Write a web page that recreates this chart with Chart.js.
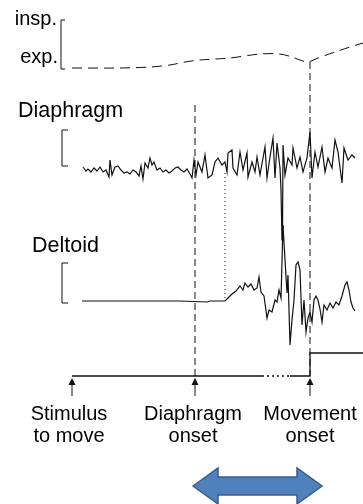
<!DOCTYPE html>
<html>
<head>
<meta charset="utf-8">
<script src="https://cdn.jsdelivr.net/npm/chart.js@4/dist/chart.umd.min.js"></script>
<style>
  body { margin: 0; background: #fff; }
</style>
</head>
<body>
<canvas id="grafica" width="363" height="504"></canvas>
<script>
// Tiempos de los eventos (ms despues del estimulo)
const eventLabels = [["Stimulus", "to move"], ["Diaphragm", "onset"], ["Movement", "onset"]];
const eventTimes = [0, 246, 476];
const deltoidOnset = 306;

// Respiracion (insp./exp.)
const respTime = [0, 96, 156, 196, 226, 256, 316, 376, 416, 440, 456, 472, 492, 526, 556, 582];
const respValue = [0, 0, 1, 3, 6, 8, 10, 14, 14, 11, 8, 6, 10, 16, 21, 25];

// EMG diafragma
const diaTime = [22, 28, 32, 38, 44, 50, 56, 62, 68, 74, 76, 80, 86, 92, 98, 104, 110, 116, 122, 128,
  134, 138, 142, 146, 152, 156, 160, 164, 170, 176, 182, 188, 194, 200, 206, 212, 218, 224, 230, 236,
  240, 244, 248, 252, 260, 266, 272, 280, 286, 292, 300, 306, 310, 312, 320, 322, 330, 336, 342, 350,
  352, 360, 366, 370, 376, 382, 386, 390, 396, 402, 406, 410, 416, 418, 420, 421, 422, 426, 432, 440,
  442, 450, 456, 462, 470, 476, 480, 486, 492, 500, 506, 512, 520, 526, 532, 540, 544, 552, 560, 566];
const diaValue = [3, -1, 1, -2, 2, -1, 3, -2, 0, -7, 10, -5, 3, 4, 0, -3, -2, -4, 0, -2,
  -6, 4, -9, 7, 2, 12, 5, 8, 0, 2, -2, 0, -3, -1, 2, 3, 0, -2, 1, -4,
  -8, 10, -5, 8, -2, 15, -8, -5, 8, 12, 5, 8, -2, 17, 20, 2, -5, 18, 0, 17,
  -7, 8, -2, 13, -5, 12, 23, -8, 13, 32, -8, 27, 2, -20, -70, -66, 25, -5, 12, 5,
  22, 2, 13, -2, 12, 38, -8, 18, 3, 23, -2, 12, 2, 30, 18, -13, 22, 10, 15, 12];

// EMG deltoides
const delTime = [20, 156, 216, 270, 276, 306, 312, 320, 328, 336, 342, 346, 352, 358, 364, 370, 374, 378,
  384, 390, 394, 400, 406, 410, 414, 418, 422, 426, 430, 432, 436, 440, 444, 448, 452, 456, 460, 464,
  468, 472, 476, 480, 484, 488, 492, 496, 500, 504, 510, 516, 522, 528, 534, 540, 546, 550, 554, 558,
  562, 566];
const delValue = [0, 0, 0, -1, 0, 0, 3, 7, 10, 15, 11, 18, 14, 17, 11, 13, 24, 9,
  5, -17, -9, -11, 1, -1, 11, 3, 76, 41, 8, 26, -44, -19, 1, 36, 39, 31, -24, 1,
  -31, -17, -11, -21, 1, 5, 1, -8, -21, -4, -9, -2, -7, -1, -4, 5, 16, 19, 11, -1,
  -7, -10];

// Movimiento (eje de tiempo + escalon)
const movTime = [0, 380, 436, 476, 476, 582];
const movValue = [0, 0, 0, 0, 23, 23];

// Barras de calibracion [abajo, arriba]
const calResp = [-1, 48];
const calDia = [4, 40];
const calDel = [-2, 38];

function toXY(times, values) {
  return times.map((t, i) => ({ x: t, y: values[i] }));
}

function linea(ctx, x1, y1, x2, y2) {
  ctx.beginPath();
  ctx.moveTo(x1, y1);
  ctx.lineTo(x2, y2);
  ctx.stroke();
}

function corchete(ctx, x, yTop, yBot, tick) {
  ctx.beginPath();
  ctx.moveTo(x + tick, yTop);
  ctx.lineTo(x, yTop);
  ctx.lineTo(x, yBot);
  ctx.lineTo(x + tick, yBot);
  ctx.stroke();
}

const anotaciones = {
  id: "anotaciones",
  beforeDraw(chart) {
    const ctx = chart.ctx;
    ctx.save();
    ctx.fillStyle = "#fff";
    ctx.fillRect(0, 0, chart.width, chart.height);
    ctx.restore();
  },
  afterDatasetsDraw(chart) {
    const { ctx, scales } = chart;
    const px = (t) => scales.x.getPixelForValue(t);
    const yResp = (v) => scales.yResp.getPixelForValue(v);
    const yDia = (v) => scales.yDia.getPixelForValue(v);
    const yDel = (v) => scales.yDel.getPixelForValue(v);
    const yMov = (v) => scales.yMov.getPixelForValue(v);
    ctx.save();
    ctx.strokeStyle = "#111";
    ctx.fillStyle = "#111";
    ctx.lineWidth = 1;

    // lineas discontinuas de inicio
    ctx.setLineDash([7, 4]);
    linea(ctx, px(eventTimes[1]), yDia(65), px(eventTimes[1]), yMov(0));
    linea(ctx, px(eventTimes[2]), yResp(6), px(eventTimes[2]), yMov(0));
    // linea punteada inicio deltoides
    ctx.setLineDash([1, 3]);
    linea(ctx, px(deltoidOnset), yDia(-3), px(deltoidOnset), yDel(0));
    ctx.setLineDash([]);

    // flechas de eventos
    eventTimes.forEach((t) => {
      const x = px(t);
      const y0 = yMov(0) + 2;
      ctx.beginPath();
      ctx.moveTo(x, y0);
      ctx.lineTo(x - 3.5, y0 + 7);
      ctx.lineTo(x + 3.5, y0 + 7);
      ctx.closePath();
      ctx.fill();
      linea(ctx, x, y0 + 6, x, y0 + 18);
    });

    // barras de calibracion
    const xc = px(-20);
    corchete(ctx, xc - 1, yResp(calResp[1]), yResp(calResp[0]), 4);
    corchete(ctx, xc, yDia(calDia[1]), yDia(calDia[0]), 6);
    corchete(ctx, xc, yDel(calDel[1]), yDel(calDel[0]), 6);

    // textos
    ctx.fillStyle = "#000";
    ctx.font = "20px 'Liberation Sans', Arial, sans-serif";
    ctx.textAlign = "right";
    ctx.fillText("insp.", 57, 25);
    ctx.fillText("exp.", 58, 63);
    ctx.textAlign = "left";
    ctx.font = "21.5px 'Liberation Sans', Arial, sans-serif";
    ctx.fillText("Diaphragm", 18, 117);
    ctx.fillText("Deltoid", 32, 252);
    ctx.font = "20px 'Liberation Sans', Arial, sans-serif";
    ctx.textAlign = "center";
    const centros = [69, 193, 310];
    eventLabels.forEach((lbl, i) => {
      ctx.fillText(lbl[0], centros[i], 420);
      ctx.fillText(lbl[1], centros[i], 442);
    });

    // flecha doble azul (intervalo diafragma - movimiento)
    const xa = px(eventTimes[1]) - 2;
    const xb = px(eventTimes[2]) + 12;
    const yc = 486;
    const head = 25;
    ctx.beginPath();
    ctx.moveTo(xa, yc);
    ctx.lineTo(xa + head, yc - 18);
    ctx.lineTo(xa + head, yc - 9);
    ctx.lineTo(xb - head, yc - 9);
    ctx.lineTo(xb - head, yc - 18);
    ctx.lineTo(xb, yc);
    ctx.lineTo(xb - head, yc + 18);
    ctx.lineTo(xb - head, yc + 9);
    ctx.lineTo(xa + head, yc + 9);
    ctx.lineTo(xa + head, yc + 18);
    ctx.closePath();
    ctx.fillStyle = "#4F81BD";
    ctx.fill();
    ctx.strokeStyle = "#385D8A";
    ctx.lineWidth = 1.5;
    ctx.stroke();
    ctx.restore();
  },
};

const trazo = (data, axis, extra) => Object.assign({
  data: data,
  yAxisID: axis,
  borderColor: "#111",
  borderWidth: 1.2,
  pointRadius: 0,
  tension: 0,
  fill: false,
}, extra || {});

const config = {
  type: "line",
  data: {
    datasets: [
      trazo(toXY(respTime, respValue), "yResp", { borderDash: [10, 6], borderWidth: 1, tension: 0.3 }),
      trazo(toXY(diaTime, diaValue), "yDia"),
      trazo(toXY(delTime, delValue), "yDel"),
      trazo(toXY(movTime, movValue), "yMov", {
        borderWidth: 1.3,
        segment: { borderDash: (c) => (c.p0DataIndex === 1 ? [2, 3] : undefined) },
      }),
    ],
  },
  options: {
    responsive: false,
    animation: false,
    layout: { padding: 0 },
    plugins: { legend: { display: false }, tooltip: { enabled: false } },
    scales: {
      x: { type: "linear", min: -144, max: 582, display: false },
      yResp: { type: "linear", min: -436, max: 68, display: false },
      yDia: { type: "linear", min: -334, max: 170, display: false },
      yDel: { type: "linear", min: -203, max: 301, display: false },
      yMov: { type: "linear", min: -128, max: 376, display: false },
    },
  },
  plugins: [anotaciones],
};

new Chart(document.getElementById("grafica").getContext("2d"), config);
</script>
</body>
</html>
